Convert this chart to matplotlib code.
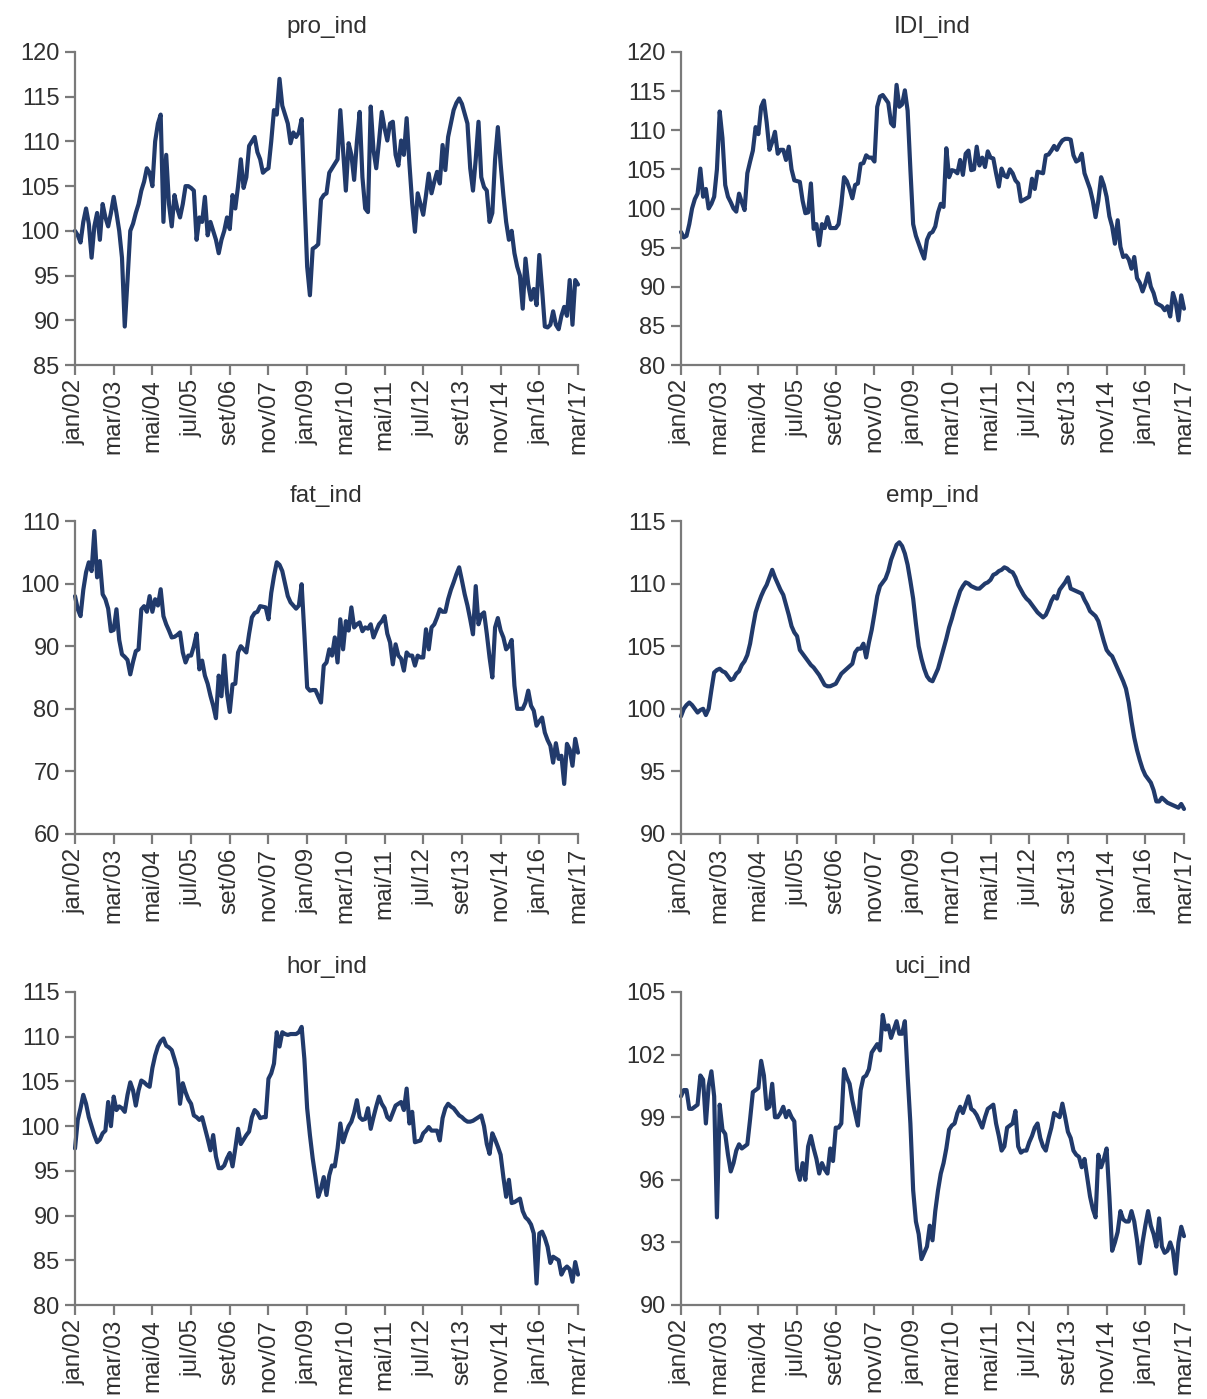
import matplotlib.pyplot as plt
import numpy as np

# monthly indices, jan/2002 .. mar/2017 (one row per year)
pro_ind = [
    100.0, 99.5, 98.7, 101.0, 102.5, 100.8, 97.0, 100.5, 102.0, 99.0, 103.0, 101.5,
    100.5, 102.0, 103.8, 102.0, 100.0, 97.0, 89.3, 94.5, 100.0, 100.8, 102.0, 103.0,
    104.5, 105.5, 107.0, 106.5, 105.0, 110.0, 112.0, 113.0, 101.0, 108.5, 103.0, 100.5,
    104.0, 102.5, 101.5, 103.0, 105.0, 105.0, 104.8, 104.5, 99.0, 101.5, 101.0, 103.8,
    99.5, 101.0, 100.0, 99.0, 97.5, 99.0, 100.0, 101.5, 100.2, 104.0, 102.5, 105.0,
    108.0, 104.8, 106.0, 109.5, 110.0, 110.5, 108.8, 108.0, 106.5, 106.8, 107.0, 110.0,
    113.5, 113.0, 117.0, 114.0, 113.0, 112.0, 109.8, 111.0, 110.5, 111.0, 112.5, 104.0,
    96.0, 92.8, 98.0, 98.2, 98.5, 103.5, 104.0, 104.2, 106.5, 107.0, 107.5, 108.0,
    113.5, 109.0, 104.5, 109.8, 108.5, 105.7, 110.0, 113.3, 106.0, 102.5, 102.1, 113.9,
    109.0, 107.0, 110.0, 113.3, 111.5, 110.1, 112.0, 112.2, 108.5, 107.3, 110.1, 108.5,
    112.6, 107.5, 103.1, 99.9, 104.2, 103.0, 101.8, 104.0, 106.4, 104.2, 105.5, 106.6,
    105.3, 109.6, 106.8, 110.5, 112.0, 113.5, 114.3, 114.8, 114.2, 113.1, 112.0, 107.0,
    104.5, 108.0, 112.2, 106.0, 104.9, 104.5, 101.0, 102.0, 108.0, 111.6, 107.5, 104.0,
    101.0, 99.0, 100.0, 97.5, 96.0, 95.0, 91.3, 96.9, 94.0, 92.3, 93.5, 91.7,
    97.3, 93.5, 89.3, 89.2, 89.5, 91.0, 89.5, 89.0, 90.5, 91.5, 90.5, 94.5,
    89.5, 94.5, 94.0,
]

idi_ind = [
    97.0, 96.3, 96.5, 98.0, 100.0, 101.2, 101.9, 105.1, 101.5, 102.5, 100.0, 100.6,
    101.5, 105.0, 112.4, 109.0, 103.0, 101.5, 100.8, 100.0, 99.6, 101.9, 100.8, 99.8,
    104.5, 106.0, 107.4, 110.4, 109.5, 113.0, 113.8, 111.0, 107.5, 108.5, 109.8, 107.0,
    107.5, 107.5, 106.2, 107.9, 105.0, 103.6, 103.5, 103.4, 101.0, 99.4, 99.5, 103.2,
    97.4, 98.0, 95.3, 98.0, 97.5, 98.9, 97.5, 97.5, 97.5, 98.0, 100.5, 104.0,
    103.5, 102.5, 101.3, 103.0, 103.2, 105.7, 105.8, 106.8, 106.5, 106.5, 106.0, 113.0,
    114.3, 114.5, 114.0, 113.5, 110.9, 110.5, 115.8, 113.0, 113.3, 115.1, 112.5, 105.0,
    98.0, 96.5, 95.5, 94.5, 93.6, 96.0, 96.8, 97.0, 97.7, 99.5, 100.6, 100.2,
    107.7, 104.0, 104.9, 104.8, 104.5, 106.2, 104.3, 107.0, 107.4, 104.9, 105.0, 107.9,
    105.5, 106.5, 105.3, 107.3, 106.5, 106.4, 104.5, 102.8, 105.1, 104.2, 104.0, 105.0,
    104.5, 103.6, 103.2, 100.9, 101.1, 101.3, 101.5, 103.8, 102.5, 104.7, 104.6, 104.5,
    106.8, 106.9, 107.4, 108.0, 107.5, 108.2, 108.7, 108.9, 108.9, 108.8, 106.8, 106.0,
    106.2, 107.0, 104.5, 103.5, 102.5, 101.0, 98.9, 101.0, 104.0, 103.0, 101.5, 99.0,
    97.7, 95.5, 98.5, 95.1, 93.8, 94.0, 93.5, 92.3, 93.8, 91.1, 90.5, 89.4,
    90.4, 91.7, 90.0, 89.2, 87.9, 87.7, 87.5, 87.0, 87.5, 86.2, 89.2, 88.0,
    85.7, 88.9, 87.2,
]

fat_ind = [
    98.0, 95.9, 94.8, 99.0, 101.8, 103.4, 102.0, 108.4, 101.0, 103.6, 98.3, 97.5,
    96.0, 92.4, 92.6, 95.9, 91.0, 88.7, 88.3, 87.8, 85.5, 87.5, 89.2, 89.5,
    95.9, 96.4, 95.5, 98.0, 95.5, 97.5, 96.5, 99.1, 94.8, 93.5, 92.5, 91.4,
    91.5, 91.8, 92.2, 89.0, 87.4, 88.5, 88.5, 90.0, 92.0, 86.3, 87.7, 85.3,
    84.0, 82.1, 80.5, 78.5, 85.3, 82.0, 88.5, 82.5, 79.5, 83.9, 84.0, 89.0,
    90.0, 89.5, 89.0, 92.0, 94.6, 95.3, 95.5, 96.4, 96.3, 96.2, 94.3, 98.5,
    101.2, 103.4, 103.0, 102.0, 100.0, 98.0, 97.0, 96.5, 96.0, 96.5, 99.9, 92.0,
    83.4, 82.9, 83.0, 83.0, 82.0, 81.0, 86.9, 87.4, 89.5, 88.5, 91.4, 87.4,
    94.3, 89.5, 94.0, 92.5, 96.2, 93.0, 93.5, 93.8, 92.4, 93.0, 92.8, 93.5,
    91.4, 92.5, 93.5, 94.0, 94.8, 92.0, 90.6, 87.1, 90.3, 88.5, 88.0, 86.1,
    89.0, 88.5, 88.5, 86.9, 88.5, 88.2, 88.2, 92.7, 89.5, 93.0, 93.5, 94.6,
    95.9, 95.5, 95.5, 97.5, 99.0, 100.2, 101.5, 102.6, 100.5, 98.3, 96.5, 94.3,
    91.9, 99.6, 93.5, 95.0, 95.4, 92.0, 88.2, 85.0, 93.0, 94.5, 92.5, 91.4,
    89.5, 90.0, 91.0, 83.7, 80.0, 80.0, 80.0, 81.0, 82.9, 80.5, 79.7, 77.3,
    78.0, 78.6, 76.2, 75.0, 74.1, 71.4, 74.5, 72.0, 72.5, 68.0, 74.4, 73.5,
    70.9, 75.2, 73.0,
]

emp_ind = [
    99.4, 100.0, 100.3, 100.5, 100.3, 100.0, 99.7, 99.9, 100.0, 99.5, 100.0, 101.5,
    102.9, 103.1, 103.2, 103.0, 102.9, 102.6, 102.3, 102.4, 102.8, 103.0, 103.5, 103.8,
    104.3, 105.2, 106.5, 107.7, 108.4, 109.0, 109.5, 109.9, 110.5, 111.1, 110.5, 110.0,
    109.5, 109.1, 108.3, 107.5, 106.6, 106.1, 105.8, 104.7, 104.4, 104.1, 103.8, 103.5,
    103.3, 103.0, 102.7, 102.3, 101.9, 101.8, 101.8, 101.9, 102.0, 102.4, 102.8, 103.0,
    103.2, 103.4, 103.6, 104.5, 104.8, 104.8, 105.2, 104.1, 105.3, 106.3, 107.6, 109.0,
    109.8, 110.1, 110.4, 111.0, 111.9, 112.5, 113.1, 113.3, 113.0, 112.4, 111.5, 110.2,
    108.8, 106.8, 105.0, 104.0, 103.2, 102.6, 102.3, 102.2, 102.7, 103.2, 104.0, 104.8,
    105.6, 106.5, 107.2, 108.0, 108.7, 109.4, 109.8, 110.1, 110.0, 109.8, 109.7, 109.6,
    109.6, 109.8, 110.0, 110.1, 110.3, 110.7, 110.8, 111.0, 111.1, 111.3, 111.2, 111.0,
    110.9, 110.5, 109.9, 109.5, 109.1, 108.8, 108.6, 108.3, 108.0, 107.7, 107.5, 107.3,
    107.5, 108.0, 108.6, 109.0, 108.8, 109.5, 109.8, 110.1, 110.5, 109.6, 109.5, 109.4,
    109.3, 109.2, 108.7, 108.3, 107.8, 107.6, 107.4, 107.0, 106.2, 105.4, 104.7, 104.4,
    104.2, 103.7, 103.2, 102.7, 102.2, 101.6, 100.5, 99.0, 97.7, 96.7, 95.9, 95.2,
    94.7, 94.4, 94.1, 93.5, 92.6, 92.6, 92.9, 92.7, 92.5, 92.4, 92.3, 92.2,
    92.1, 92.4, 92.0,
]

hor_ind = [
    97.5, 100.7, 102.0, 103.5, 102.5, 101.0, 100.0, 99.0, 98.2, 98.5, 99.2, 99.5,
    102.7, 100.0, 103.3, 101.8, 102.2, 102.0, 101.6, 103.5, 104.9, 104.0, 102.3, 104.0,
    105.1, 104.9, 104.6, 104.4, 106.5, 107.9, 108.9, 109.5, 109.8, 109.0, 108.8, 108.5,
    107.5, 106.4, 102.5, 104.8, 103.8, 103.0, 102.5, 101.2, 101.0, 100.7, 101.0, 99.8,
    98.6, 97.3, 99.0, 96.6, 95.3, 95.3, 95.6, 96.4, 97.0, 95.5, 97.5, 99.7,
    98.0, 98.5, 99.0, 99.4, 101.0, 101.8, 101.5, 100.9, 101.0, 101.0, 105.3, 105.9,
    107.0, 110.5, 108.9, 110.5, 110.3, 110.2, 110.3, 110.3, 110.3, 110.5, 111.1, 107.5,
    102.0, 99.0, 96.4, 94.3, 92.1, 93.0, 94.3, 92.3, 94.5, 95.6, 95.5, 97.5,
    100.3, 98.2, 99.2, 100.0, 100.5, 101.5, 102.9, 101.0, 100.7, 100.8, 102.0, 99.7,
    101.0, 102.2, 103.3, 102.5, 102.0, 101.0, 100.7, 101.5, 102.3, 102.5, 102.7, 101.8,
    104.2, 100.3, 101.6, 98.2, 98.3, 98.4, 99.2, 99.5, 99.9, 99.5, 99.5, 99.5,
    98.4, 100.9, 102.0, 102.5, 102.2, 102.0, 101.6, 101.2, 101.0, 100.7, 100.5, 100.5,
    100.6, 100.8, 101.0, 101.2, 100.0, 98.0, 96.9, 99.2, 98.5, 97.7, 96.8, 94.3,
    92.1, 94.0, 91.4, 91.5, 91.7, 91.9, 90.5, 89.8, 89.5, 89.0, 88.0, 82.4,
    88.0, 88.2, 87.5, 86.5, 84.7, 85.4, 85.2, 85.0, 83.4, 84.0, 84.3, 84.0,
    82.6, 84.8, 83.4,
]

uci_ind = [
    100.0, 100.3, 100.3, 99.4, 99.4, 99.5, 99.6, 101.0, 100.8, 98.7, 100.5, 101.2,
    100.0, 94.2, 99.6, 98.4, 98.2, 97.2, 96.4, 96.8, 97.4, 97.7, 97.5, 97.6,
    97.7, 98.9, 100.2, 100.3, 100.4, 101.7, 101.0, 99.4, 99.5, 100.6, 99.0, 99.0,
    99.2, 99.5, 99.0, 99.3, 99.0, 98.8, 96.5, 96.0, 96.8, 96.0, 97.6, 98.1,
    97.5, 97.0, 96.3, 96.8, 96.5, 96.3, 97.5, 96.9, 98.5, 98.5, 98.7, 101.3,
    100.9, 100.6, 99.8, 99.2, 98.6, 100.3, 100.9, 101.0, 101.3, 102.1, 102.3, 102.5,
    102.2, 103.9, 103.2, 103.4, 102.8, 103.2, 103.6, 103.0, 103.0, 103.6, 101.0, 98.7,
    95.5, 94.0, 93.4, 92.2, 92.5, 92.8, 93.8, 93.1, 94.5, 95.5, 96.3, 96.8,
    97.5, 98.4, 98.6, 98.7, 99.2, 99.5, 99.2, 99.6, 100.0, 99.4, 99.3, 99.1,
    98.8, 98.5, 99.0, 99.4, 99.5, 99.6, 98.7, 98.1, 97.4, 97.6, 98.5, 98.6,
    98.7, 99.3, 97.6, 97.3, 97.4, 97.4, 97.8, 98.1, 98.5, 98.7, 98.0, 97.6,
    97.4, 98.0, 98.5, 99.2, 99.1, 99.0, 99.65, 99.0, 98.3, 98.0, 97.4, 97.2,
    97.1, 96.6, 97.0, 96.1, 95.2, 94.6, 94.2, 97.2, 96.6, 97.0, 97.5, 95.2,
    92.6, 93.0, 93.5, 94.5, 94.1, 94.0, 94.0, 94.5, 94.0, 93.1, 92.0, 93.0,
    93.8, 94.5, 93.8, 93.4, 92.8, 94.15, 92.8, 92.5, 92.6, 93.0, 92.6, 91.5,
    93.0, 93.75, 93.3,
]

tick_labels = ['jan/02', 'mar/03', 'mai/04', 'jul/05', 'set/06', 'nov/07', 'jan/09',
               'mar/10', 'mai/11', 'jul/12', 'set/13', 'nov/14', 'jan/16', 'mar/17']

titles = ['pro_ind', 'IDI_ind', 'fat_ind', 'emp_ind', 'hor_ind', 'uci_ind']
series = [pro_ind, idi_ind, fat_ind, emp_ind, hor_ind, uci_ind]
y_ranges = [(85, 120, 5), (80, 120, 5), (60, 110, 10),
            (90, 115, 5), (80, 115, 5), (90, 105, 3)]

line_color = '#213a6b'
axis_color = '#7a7a7a'
text_color = '#303030'

plt.rcParams['font.family'] = ['Liberation Sans', 'DejaVu Sans']

fig = plt.figure(figsize=(12.07, 13.99), dpi=100)
W, H = 1207, 1399

# panel boxes in pixels: left, top, width, height
lefts = [75, 681]
tops = [52, 521, 992]
box_w = 503
box_h = 313

for i, (name, vals, yr) in enumerate(zip(titles, series, y_ranges)):
    row, col = divmod(i, 2)
    l = lefts[col]
    t = tops[row]
    ax = fig.add_axes([l / W, 1 - (t + box_h) / H, box_w / W, box_h / H])

    x = np.arange(len(vals))
    ax.plot(x, vals, color=line_color, lw=3.0, solid_joinstyle='round',
            solid_capstyle='round', clip_on=False)

    lo, hi, step = yr
    ax.set_ylim(lo, hi)
    ax.set_yticks(np.arange(lo, hi + step / 2, step))
    ax.set_xlim(0, len(vals) - 1)
    ax.set_xticks(np.arange(0, len(vals), 14))
    ax.set_xticklabels(tick_labels, rotation=90)

    for side in ['top', 'right']:
        ax.spines[side].set_visible(False)
    for side in ['left', 'bottom']:
        ax.spines[side].set_color(axis_color)
        ax.spines[side].set_linewidth(1.6)

    ax.tick_params(axis='y', direction='out', length=7, width=1.6, color=axis_color,
                   labelsize=17, labelcolor=text_color, pad=4)
    ax.tick_params(axis='x', direction='out', length=7, width=1.6, color=axis_color,
                   labelsize=17.5, labelcolor=text_color, pad=3)

    ax.set_title(name, fontsize=17.5, color=text_color, pad=14)

fig.savefig('out.png', dpi=100, facecolor='white')
